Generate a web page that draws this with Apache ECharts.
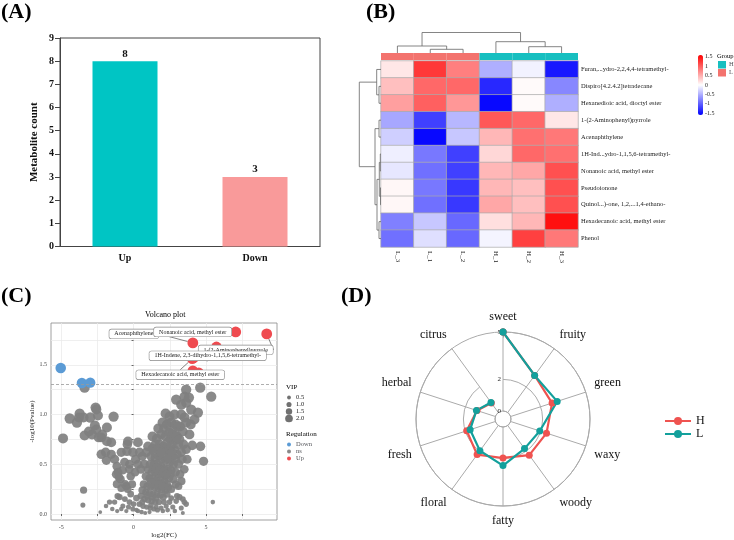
<!DOCTYPE html>
<html>
<head>
<meta charset="utf-8">
<script src="https://cdn.jsdelivr.net/npm/echarts@6/dist/echarts.min.js"></script>
<style>
  html, body { margin: 0; padding: 0; background: #fff; }
  #main { width: 734px; height: 540px; }
</style>
</head>
<body>
<div id="main"></div>
<script>
// ---- (A) differential metabolite counts
const regCats = ['Up', 'Down'];
const regCounts = [8, 3];

// ---- (B) heatmap (z-scores), columns in clustered order
const sampleNames = ['L_3', 'L_1', 'L_2', 'H_1', 'H_2', 'H_3'];
const sampleGroups = ['L', 'L', 'L', 'H', 'H', 'H'];
const compounds = [
  'Furan,...ydro-2,2,4,4-tetramethyl-',
  'Dispiro[4.2.4.2]tetradecane',
  'Hexanedioic acid, dioctyl ester',
  '1-(2-Aminophenyl)pyrrole',
  'Acenaphthylene',
  '1H-Ind...ydro-1,1,5,6-tetramethyl-',
  'Nonanoic acid, methyl ester',
  'Pseudoionone',
  'Quinol...)-one, 1,2,...1,4-ethano-',
  'Hexadecanoic acid, methyl ester',
  'Phenol'
];
const zScores = [
  [0.15, 1.25, 0.8, -0.5, -0.08, -1.45],
  [0.4, 0.95, 0.95, -1.35, 0.03, -0.75],
  [0.6, 1.0, 0.65, -1.55, 0.03, -0.5],
  [-0.55, -1.2, -0.45, 1.05, 0.95, 0.15],
  [-0.3, -1.55, -0.35, 0.45, 0.9, 0.85],
  [-0.1, -0.85, -1.2, 0.25, 0.95, 0.9],
  [-0.15, -0.9, -1.2, 0.45, 0.55, 1.1],
  [0.05, -0.85, -1.25, 0.45, 0.4, 1.1],
  [0.05, -0.9, -1.25, 0.55, 0.4, 1.1],
  [-0.8, -0.35, -0.95, 0.2, 0.45, 1.5],
  [-0.9, -0.2, -0.95, -0.07, 1.2, 0.85]
];
// dendrograms: [left, right, height], leaves are column / row indices
const colTree = [[0, [1, 2, 3.7], 7], [3, [4, 5, 6.3], 11.3], 20.5];
const rowTree = [[0, [1, 2, 2], 4.3], [[3, 4, 2], [[[5, 6, 0.7], [7, 8, 0.5], 1.7], [9, 10, 2], 4], 6], 21.7];
const zTicks = [-1.5, -1, -0.5, 0, 0.5, 1, 1.5];

// ---- (C) volcano: [log2FC, -log10P, VIP]
const upPoints = [
  { name: 'Acenaphthylene', value: [4.09, 1.72, 3.2] },
  { name: 'Nonanoic acid, methyl ester', value: [7.05, 1.83, 3.2] },
  { name: '1-(2-Aminophenyl)pyrrole', value: [9.19, 1.81, 3.2] },
  { name: '', value: [5.72, 1.68, 3.1] },
  { name: 'Hexadecanoic acid, methyl ester', value: [4.05, 1.56, 3.1] },
  { name: '1H-Indene, 2,3-dihydro-1,1,5,6-tetramethyl-', value: [4.15, 1.57, 3.1] },
  { name: '', value: [4.09, 1.44, 3.1] },
  { name: '', value: [4.5, 1.42, 3.0] }
];
const downPoints = [[-5.03, 1.467, 3.1], [-3.57, 1.317, 3.0], [-2.99, 1.32, 3.0]];
const nsPoints = [
  [-3.38, 1.27, 3.0], [-4.41, 0.96, 3.0], [-3.72, 1.01, 3.0], [-3.77, 0.97, 2.9], [-3.45, 0.97, 2.9],
  [-2.99, 0.97, 3.0], [-2.62, 1.07, 3.0], [-2.57, 1.05, 2.9], [-2.46, 0.99, 2.9], [-1.38, 0.98, 3.0],
  [-3.91, 0.92, 3.0], [-2.67, 0.89, 2.9], [-1.84, 0.87, 2.9], [-4.87, 0.76, 2.9], [-3.38, 0.79, 2.9],
  [-3.08, 0.83, 2.9], [-2.57, 0.85, 2.9], [-2.23, 0.77, 2.8], [-2.87, 0.8, 2.9], [-2.41, 0.77, 2.8],
  [-2.16, 0.8, 2.8], [-1.84, 0.73, 2.8], [-1.54, 0.72, 2.8], [-0.39, 0.73, 2.8], [-0.43, 0.7, 2.7],
  [-2.23, 0.6, 2.7], [-1.93, 0.62, 2.7], [-1.88, 0.54, 2.6], [-1.54, 0.6, 2.6], [-1.31, 0.55, 2.6],
  [-1.15, 0.48, 2.5], [-0.85, 0.62, 2.6], [-1.08, 0.42, 2.5], [-1.01, 0.37, 2.4], [-0.62, 0.52, 2.5],
  [-0.5, 0.28, 2.2], [-1.15, 0.3, 2.2], [-1.2, 0.4, 2.4], [-0.9, 0.35, 2.3], [-0.75, 0.44, 2.4],
  [-0.3, 0.45, 2.4], [-0.6, 0.3, 2.2], [-0.2, 0.38, 2.3], [-0.4, 0.25, 2.0], [-0.1, 0.3, 2.1],
  [-0.85, 0.26, 2.0],
  [-3.45, 0.24, 1.8], [-3.5, 0.09, 1.0], [-2.3, 0.02, 0.5], [-1.66, 0.12, 1.1], [-1.47, 0.05, 0.8],
  [-1.31, 0.12, 1.1], [-0.97, 0.17, 1.5], [-0.74, 0.08, 1.0], [-0.28, 0.12, 1.3], [-0.05, 0.05, 1.0],
  [-0.5, 0.03, 0.7], [-1.13, 0.03, 0.7], [-1.9, 0.08, 0.8], [-1.1, 0.18, 1.5], [-0.6, 0.15, 1.3],
  [-0.2, 0.2, 1.6], [0.0, 0.1, 1.2], [0.2, 0.04, 0.8], [-0.85, 0.05, 0.8], [-0.35, 0.07, 1.0],
  [0.3, 0.72, 2.8], [0.41, 0.62, 2.7], [-0.05, 0.62, 2.7], [-0.46, 0.63, 2.7], [0.14, 0.55, 2.6],
  [-0.28, 0.5, 2.5], [0.3, 0.5, 2.5], [0.87, 0.62, 2.7], [0.99, 0.68, 2.7], [0.6, 0.58, 2.6],
  [0.5, 0.45, 2.5], [0.1, 0.42, 2.4], [0.75, 0.5, 2.5],
  [2.3, 0.9, 2.9], [2.6, 0.92, 2.9], [2.9, 0.9, 2.9], [3.2, 0.88, 2.9], [2.1, 0.86, 2.8],
  [1.9, 0.8, 2.8], [2.2, 0.78, 2.8], [2.45, 0.82, 2.8], [2.7, 0.8, 2.8], [3.0, 0.78, 2.8],
  [2.55, 0.75, 2.8], [2.85, 0.74, 2.8], [1.6, 0.76, 2.8], [2.35, 0.72, 2.8],
  [1.5, 0.7, 2.7], [1.8, 0.7, 2.7], [2.05, 0.68, 2.7], [2.3, 0.66, 2.7], [2.6, 0.68, 2.7],
  [2.8, 0.65, 2.7], [3.1, 0.7, 2.7], [1.3, 0.66, 2.7], [2.15, 0.62, 2.6], [2.45, 0.6, 2.6],
  [2.7, 0.58, 2.6], [3.0, 0.6, 2.6],
  [1.2, 0.58, 2.6], [1.5, 0.56, 2.6], [1.75, 0.58, 2.6], [1.95, 0.55, 2.5], [2.2, 0.54, 2.5],
  [2.5, 0.52, 2.5], [2.75, 0.5, 2.5], [1.4, 0.5, 2.5], [1.65, 0.5, 2.5], [1.9, 0.48, 2.5],
  [2.1, 0.46, 2.4], [2.35, 0.45, 2.4], [2.6, 0.44, 2.4],
  [1.0, 0.45, 2.4], [1.25, 0.42, 2.4], [1.5, 0.42, 2.4], [1.7, 0.4, 2.3], [1.95, 0.4, 2.3],
  [2.2, 0.38, 2.3], [2.45, 0.36, 2.3], [1.1, 0.36, 2.3], [1.35, 0.35, 2.3], [1.6, 0.34, 2.2],
  [1.85, 0.33, 2.2], [2.1, 0.32, 2.2], [2.3, 0.3, 2.2],
  [0.7, 0.3, 2.1], [0.95, 0.28, 2.1], [1.2, 0.28, 2.1], [1.45, 0.27, 2.1], [1.7, 0.26, 2.0],
  [1.95, 0.25, 2.0], [2.2, 0.24, 2.0], [0.85, 0.22, 1.9], [1.1, 0.21, 1.9], [1.35, 0.2, 1.9],
  [1.6, 0.2, 1.9], [1.85, 0.19, 1.8], [2.05, 0.17, 1.8],
  [0.5, 0.18, 1.7], [0.75, 0.15, 1.6], [1.0, 0.14, 1.6], [1.25, 0.13, 1.5], [1.5, 0.12, 1.5],
  [1.75, 0.12, 1.5], [0.4, 0.1, 1.3], [0.65, 0.08, 1.2], [0.9, 0.07, 1.1], [1.15, 0.06, 1.1],
  [1.4, 0.05, 1.0], [1.65, 0.04, 1.0], [0.3, 0.03, 0.8], [0.55, 0.02, 0.8], [0.8, 0.01, 0.6],
  [1.1, 0.02, 0.7], [1.9, 0.06, 1.0],
  [1.3, 0.78, 2.8], [1.7, 0.86, 2.8], [2.0, 0.92, 2.9], [1.45, 0.62, 2.7], [1.65, 0.65, 2.7],
  [1.9, 0.62, 2.6], [2.4, 0.56, 2.6], [2.65, 0.62, 2.6], [2.9, 0.55, 2.5], [1.15, 0.5, 2.5],
  [1.55, 0.46, 2.5], [1.8, 0.44, 2.4], [2.05, 0.42, 2.4], [2.3, 0.4, 2.3], [2.55, 0.4, 2.3],
  [2.75, 0.35, 2.3], [0.85, 0.38, 2.3], [1.2, 0.32, 2.2], [1.5, 0.3, 2.2], [1.75, 0.3, 2.2],
  [2.0, 0.28, 2.1], [2.4, 0.27, 2.0], [2.6, 0.25, 2.0], [0.6, 0.24, 2.0], [0.95, 0.18, 1.8],
  [1.3, 0.17, 1.7], [1.55, 0.16, 1.7], [2.3, 0.2, 1.8], [0.2, 0.16, 1.6], [0.6, 0.12, 1.4],
  [1.2, 0.09, 1.2], [2.1, 0.12, 1.3], [2.35, 0.04, 0.9], [3.1, 0.28, 2.0], [3.3, 0.33, 2.2],
  [2.9, 0.3, 2.1], [3.5, 0.45, 2.4], [3.7, 0.55, 2.5], [3.95, 0.9, 2.8], [4.2, 0.95, 2.9],
  [5.47, 0.12, 0.8], [3.4, 0.15, 1.3], [3.17, 0.17, 1.4], [3.63, 0.1, 1.2], [2.94, 0.13, 1.2],
  [2.48, 0.12, 1.2], [2.71, 0.07, 1.0], [2.25, 0.08, 1.0], [3.29, 0.06, 1.0], [3.4, 0.01, 0.6],
  [2.02, 0.03, 0.8], [1.56, 0.07, 1.0], [3.0, 0.18, 1.4], [3.5, 0.12, 1.2], [2.6, 0.16, 1.3],
  [2.85, 0.03, 0.8],
  [3.63, 1.25, 3.0], [4.6, 1.27, 3.0], [5.36, 1.18, 3.0], [2.94, 1.15, 3.0], [3.52, 1.18, 3.0],
  [3.82, 1.17, 3.0], [3.63, 1.12, 3.0], [3.29, 1.1, 3.0], [3.98, 1.05, 3.0], [4.44, 1.02, 3.0],
  [2.21, 1.01, 2.9], [2.48, 0.98, 2.9], [2.83, 1.0, 2.9], [3.29, 1.0, 2.9], [3.52, 0.97, 2.9],
  [3.63, 0.92, 2.9], [3.06, 0.88, 2.9], [2.71, 0.83, 2.8], [2.94, 0.78, 2.8], [3.4, 0.83, 2.8],
  [3.86, 0.8, 2.8], [3.17, 0.75, 2.8], [3.63, 0.65, 2.7], [4.62, 0.68, 2.7], [4.83, 0.53, 2.6],
  [4.05, 0.69, 2.7], [3.3, 0.62, 2.6], [3.45, 0.7, 2.7], [3.1, 0.5, 2.5], [3.35, 0.55, 2.6],
  [2.9, 0.42, 2.4], [3.2, 0.4, 2.4]
];
const vipLevels = ['0.5', '1.0', '1.5', '2.0'];
const pCut = 0.05;

// ---- (D) aroma radar
const aromas = ['sweet', 'fruity', 'green', 'waxy', 'woody', 'fatty', 'floral', 'fresh', 'herbal', 'citrus'];
const scoreH = [5, 2.9, 2.76, 2.39, 2.32, 1.96, 2.28, 1.91, 1.22, 0.75];
const scoreL = [5, 2.9, 3.1, 1.94, 1.81, 2.44, 1.98, 1.68, 1.26, 0.79];
const radarTicks = [0, 2, 5];

const serif = 'Liberation Serif';
const vipSize = v => 2.5 + 2.6 * v;

function dendro(tree, horizontal) {
  const segs = [];
  function walk(node) {
    if (typeof node === 'number') return [node + 0.5, 0];
    const a = walk(node[0]);
    const b = walk(node[1]);
    const h = node[2];
    const pts = [[a[0], a[1]], [a[0], h], [b[0], h], [b[0], b[1]]];
    segs.push({ coords: horizontal ? pts.map(p => [p[1], p[0]]) : pts });
    return [(a[0] + b[0]) / 2, h];
  }
  walk(tree);
  return segs;
}

const heatData = [];
zScores.forEach((row, r) => row.forEach((v, c) => heatData.push([c, r, v])));

const labelShift = {
  'Acenaphthylene': [-59, -9],
  'Nonanoic acid, methyl ester': [-43, 0],
  '1-(2-Aminophenyl)pyrrole': [-31, 16],
  '1H-Indene, 2,3-dihydro-1,1,5,6-tetramethyl-': [14, -2],
  'Hexadecanoic acid, methyl ester': [-12, 16]
};

function titleBox(text, left, top, size, weight) {
  return {
    text, left, top, padding: 0,
    textStyle: { fontSize: size, fontWeight: weight, color: '#000', fontFamily: serif }
  };
}

const chart = echarts.init(document.getElementById('main'));

chart.setOption({
  animation: false,
  textStyle: { fontFamily: serif },
  title: [
    titleBox('(A)', 1, 1, 22, 'bold'),
    titleBox('(B)', 366, 1, 22, 'bold'),
    titleBox('(C)', 1, 285, 22, 'bold'),
    titleBox('(D)', 341, 285, 22, 'bold'),
    titleBox('Group', 717, 53, 6.5, 'normal'),
    titleBox('Volcano plot', 145, 311, 8, 'normal'),
    titleBox('VIP', 286, 384, 7, 'normal'),
    titleBox('Regulation', 286, 431, 7, 'normal')
  ],
  legend: [
    {
      data: ['Group H', 'Group L'], left: 718, top: 61, orient: 'vertical', padding: 0,
      icon: 'rect', itemWidth: 8, itemHeight: 7.5, itemGap: 0.5,
      formatter: n => n.replace('Group ', ''),
      textStyle: { fontSize: 6.5, fontFamily: serif, padding: [0, 0, 0, -2] }
    },
    {
      data: ['Down', 'ns', 'Up'], left: 287, top: 441, orient: 'vertical', padding: 0,
      icon: 'circle', itemWidth: 4, itemHeight: 4, itemGap: 0,
      textStyle: { fontSize: 6.5, fontFamily: serif, lineHeight: 7 }
    },
    {
      data: ['H', 'L'], left: 664, top: 415, orient: 'vertical', padding: 0,
      itemWidth: 26, itemHeight: 10, itemGap: 1,
      textStyle: { fontSize: 12, fontFamily: serif, color: '#111' }
    }
  ],
  visualMap: {
    type: 'continuous', seriesIndex: 1, min: -1.6, max: 1.6, calculable: false,
    left: 698, top: 55, itemWidth: 5, itemHeight: 60, padding: 0, text: null,
    inRange: { color: ['#0000FF', '#FFFFFF', '#FF0000'] }
  },
  grid: [
    { left: 60, top: 38, width: 260, height: 208.5, show: true, borderColor: '#444', borderWidth: 1 },
    { left: 381, top: 61, width: 197, height: 186 },
    { left: 381, top: 53, width: 197, height: 7 },
    { left: 381, top: 31, width: 197, height: 22 },
    { left: 358, top: 61, width: 23, height: 186 },
    { left: 700, top: 55, width: 1, height: 60 },
    { left: 51, top: 323, width: 226, height: 197.5, show: true, borderColor: '#888', borderWidth: 0.8 },
    { left: 289, top: 394, width: 1, height: 28 }
  ],
  xAxis: [
    {
      gridIndex: 0, type: 'category', data: regCats,
      axisLine: { lineStyle: { color: '#444' } }, axisTick: { lineStyle: { color: '#444' } },
      axisLabel: { color: '#111', fontWeight: 'bold', fontSize: 10, margin: 7 }
    },
    {
      gridIndex: 1, type: 'category', data: sampleNames, axisLine: { show: false }, axisTick: { show: false },
      axisLabel: { rotate: -90, fontSize: 7, color: '#222', margin: 4 }
    },
    { gridIndex: 2, type: 'category', data: sampleNames, show: false },
    { gridIndex: 3, type: 'value', min: 0, max: sampleNames.length, show: false },
    { gridIndex: 4, type: 'value', min: 0, max: 23, inverse: true, show: false },
    { gridIndex: 5, type: 'value', show: false },
    {
      gridIndex: 6, type: 'value', min: -5.7, max: 9.9,
      name: 'log2(FC)', nameLocation: 'middle', nameGap: 12, nameTextStyle: { fontSize: 7, color: '#222' },
      axisLine: { show: false },
      axisTick: { show: true, length: 2, customValues: [-5, -2.5, 0, 2.5, 5, 7.5], lineStyle: { color: '#666' } },
      axisLabel: { customValues: [-5, 0, 5], fontSize: 6, color: '#444', margin: 4 },
      splitLine: { show: true, lineStyle: { color: '#ebebeb', width: 0.8 } }
    },
    { gridIndex: 7, type: 'value', min: 0, max: 1, show: false }
  ],
  yAxis: [
    {
      gridIndex: 0, type: 'value', min: 0, max: 9, interval: 1,
      name: 'Metabolite count', nameLocation: 'middle', nameGap: 20,
      nameTextStyle: { fontWeight: 'bold', fontSize: 11, color: '#111' },
      axisLine: { show: true, lineStyle: { color: '#444' } },
      axisTick: { show: true, lineStyle: { color: '#444' } },
      axisLabel: { color: '#111', fontWeight: 'bold', fontSize: 10, margin: 6 },
      splitLine: { show: false }
    },
    {
      gridIndex: 1, type: 'category', data: compounds, inverse: true, position: 'right',
      axisLine: { show: false }, axisTick: { show: false },
      axisLabel: { fontSize: 6.5, color: '#222', margin: 3 }
    },
    { gridIndex: 2, type: 'value', min: 0, max: 1, show: false },
    { gridIndex: 3, type: 'value', min: 0, max: 22, show: false },
    { gridIndex: 4, type: 'value', min: 0, max: compounds.length, inverse: true, show: false },
    {
      gridIndex: 5, type: 'value', min: -1.6, max: 1.6, position: 'right',
      axisLine: { show: false }, axisTick: { show: false, customValues: zTicks }, splitLine: { show: false },
      axisLabel: { customValues: zTicks, fontSize: 6, color: '#222', margin: 4 }
    },
    {
      gridIndex: 6, type: 'value', min: -0.06, max: 1.92,
      name: '-log10(Pvalue)', nameLocation: 'middle', nameGap: 15, nameTextStyle: { fontSize: 7, color: '#222' },
      axisLine: { show: false },
      axisTick: { show: true, length: 2, customValues: [0, 0.25, 0.5, 0.75, 1, 1.25, 1.5, 1.75], lineStyle: { color: '#666' } },
      axisLabel: { customValues: [0, 0.5, 1, 1.5], formatter: v => v.toFixed(1), fontSize: 6, color: '#444', margin: 4 },
      splitLine: { show: true, lineStyle: { color: '#ebebeb', width: 0.8 } }
    },
    {
      gridIndex: 7, type: 'category', data: vipLevels, inverse: true, position: 'right',
      axisLine: { show: false }, axisTick: { show: false },
      axisLabel: { interval: 0, fontSize: 6.5, color: '#222', margin: 6 }
    }
  ],
  polar: { center: [503, 419], radius: [8, 87] },
  angleAxis: {
    type: 'category', data: aromas, boundaryGap: false, startAngle: 90,
    axisLine: { show: true, lineStyle: { color: '#aaa', width: 1 } },
    axisTick: { show: false },
    axisLabel: { fontSize: 12, color: '#111', margin: 9 },
    splitLine: { show: true, lineStyle: { color: '#aaa', width: 1 } }
  },
  radiusAxis: {
    min: 0, max: 5,
    axisLine: { show: false },
    axisTick: { show: false, customValues: radarTicks },
    axisLabel: { customValues: radarTicks, fontSize: 7, color: '#222', margin: 2 },
    splitLine: { show: true, lineStyle: { color: '#aaa', width: 1 } }
  },
  series: [
    {
      type: 'bar', xAxisIndex: 0, yAxisIndex: 0, barWidth: '50%',
      data: regCounts.map((v, i) => ({ value: v, itemStyle: { color: i === 0 ? '#00C5C4' : '#F99A9A' } })),
      label: { show: true, position: 'top', fontWeight: 'bold', fontSize: 11, color: '#111', distance: 2 }
    },
    {
      type: 'heatmap', xAxisIndex: 1, yAxisIndex: 1, data: heatData,
      itemStyle: { borderColor: '#aaa', borderWidth: 0.7 }, emphasis: { disabled: true }
    },
    {
      name: 'Group L', type: 'bar', xAxisIndex: 2, yAxisIndex: 2, barWidth: '100%', barGap: '-100%',
      itemStyle: { color: '#F3736E' }, data: sampleGroups.map(g => g === 'L' ? 1 : '-')
    },
    {
      name: 'Group H', type: 'bar', xAxisIndex: 2, yAxisIndex: 2, barWidth: '100%', barGap: '-100%',
      itemStyle: { color: '#17BFC0' }, data: sampleGroups.map(g => g === 'H' ? 1 : '-')
    },
    {
      type: 'lines', coordinateSystem: 'cartesian2d', xAxisIndex: 3, yAxisIndex: 3, polyline: true,
      lineStyle: { color: '#666', width: 0.8, opacity: 1 }, data: dendro(colTree, false)
    },
    {
      type: 'lines', coordinateSystem: 'cartesian2d', xAxisIndex: 4, yAxisIndex: 4, polyline: true,
      lineStyle: { color: '#666', width: 0.8, opacity: 1 }, data: dendro(rowTree, true)
    },
    {
      name: 'ns', type: 'scatter', xAxisIndex: 6, yAxisIndex: 6, data: nsPoints,
      symbolSize: v => vipSize(v[2]), itemStyle: { color: '#808080', opacity: 0.92 },
      markLine: {
        silent: true, symbol: 'none', label: { show: false },
        lineStyle: { color: '#999', type: [3, 2], width: 0.8 },
        data: [{ yAxis: -Math.log10(pCut) }]
      }
    },
    {
      name: 'Down', type: 'scatter', xAxisIndex: 6, yAxisIndex: 6, data: downPoints,
      symbolSize: v => vipSize(v[2]), itemStyle: { color: '#5B9BD5', opacity: 1 }
    },
    {
      name: 'Up', type: 'scatter', xAxisIndex: 6, yAxisIndex: 6,
      data: upPoints.map(p => p.name ? p : { name: p.name, value: p.value, label: { show: false } }),
      symbolSize: v => vipSize(v[2]), itemStyle: { color: '#EF4B50', opacity: 1 },
      label: {
        show: true, formatter: '{b}', fontSize: 6, color: '#222', backgroundColor: '#fff',
        borderColor: '#888', borderWidth: 0.6, borderRadius: 2, padding: [1.5, 5]
      },
      labelLine: { show: true, lineStyle: { color: '#333', width: 0.6 } },
      labelLayout: p => {
        const s = labelShift[upPoints[p.dataIndex].name];
        if (!s) return {};
        return { x: p.rect.x + p.rect.width / 2 + s[0], y: p.rect.y + p.rect.height / 2 + s[1], align: 'center', verticalAlign: 'middle' };
      }
    },
    {
      type: 'scatter', xAxisIndex: 7, yAxisIndex: 7, silent: true,
      data: vipLevels.map(v => [0, v]), symbolSize: v => vipSize(parseFloat(v[1])),
      itemStyle: { color: '#4D4D4D' }
    },
    {
      name: 'H', type: 'line', coordinateSystem: 'polar',
      data: aromas.map((a, i) => [scoreH[i], a]).concat([[scoreH[0], aromas[0]]]),
      symbol: 'circle', symbolSize: 7, color: '#EF5350',
      lineStyle: { width: 2.2, color: '#EF5350' }, itemStyle: { color: '#EF5350' }
    },
    {
      name: 'L', type: 'line', coordinateSystem: 'polar',
      data: aromas.map((a, i) => [scoreL[i], a]).concat([[scoreL[0], aromas[0]]]),
      symbol: 'circle', symbolSize: 7, color: '#13A09C',
      lineStyle: { width: 2.2, color: '#13A09C' }, itemStyle: { color: '#13A09C' }
    }
  ]
});
</script>
</body>
</html>
